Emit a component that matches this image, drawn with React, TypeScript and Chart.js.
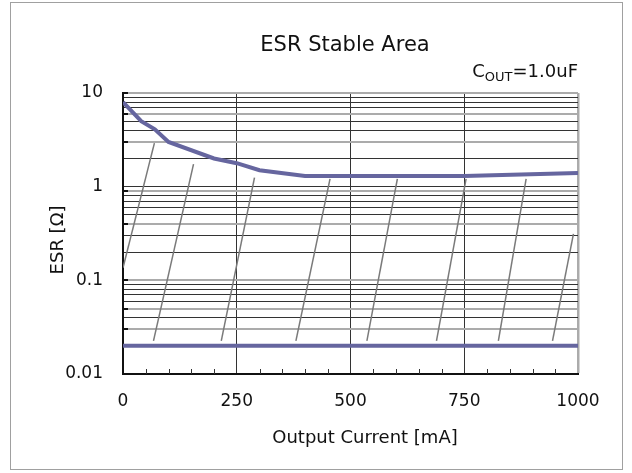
import React, { useEffect, useRef } from "react";
import { Chart, registerables } from "chart.js";

Chart.register(...registerables);

// ---- data ----
const UPPER_X = [0, 40, 70, 100, 200, 250, 300, 400, 750, 1000];
const UPPER_Y = [8.0, 5.0, 4.1, 3.0, 2.0, 1.78, 1.5, 1.3, 1.3, 1.4];
const LOWER_X = [0, 1000];
const LOWER_Y = [0.02, 0.02];
const HATCH_X0 = [0, 67, 216, 380, 536, 689, 825, 944];
const HATCH_Y0 = [0.136, 0.0226, 0.0226, 0.0226, 0.0226, 0.0226, 0.0226, 0.0226];
const HATCH_X1 = [69, 155, 289, 455, 603, 754, 886, 990];
const HATCH_Y1 = [2.92, 1.74, 1.25, 1.21, 1.21, 1.21, 1.21, 0.314];
const X_TICKS = [0, 250, 500, 750, 1000];
const X_MINOR = [50, 100, 150, 200, 300, 350, 400, 450, 550, 600, 650, 700, 800, 850, 900, 950];
const Y_LABELS = [0.01, 0.1, 1, 10];
const Y_GRID = [
  0.01, 0.02, 0.03, 0.04, 0.05, 0.06, 0.07, 0.08, 0.09,
  0.1, 0.2, 0.3, 0.4, 0.5, 0.6, 0.7, 0.8, 0.9,
  1, 2, 3, 4, 5, 6, 7, 8, 9, 10,
];
const Y_GRAY = [0.03, 0.05, 0.1, 0.4, 0.9, 3, 6, 10];

const TITLE = "ESR Stable Area";
const X_TITLE = "Output Current [mA]";
const Y_TITLE = "ESR [Ω]";

const FONT = '"DejaVu Sans", Verdana, sans-serif';
const BLUE = "#66669f";
const HATCH = "#7a7a7a";
const DARK = "#333333";
const GRAY = "#ababab";

const decorPlugin = {
  id: "decor",
  beforeDraw(chart: any) {
    const { ctx } = chart;
    ctx.save();
    ctx.fillStyle = "#ffffff";
    ctx.fillRect(0, 0, chart.width, chart.height);
    ctx.strokeStyle = "#a0a0a0";
    ctx.lineWidth = 1;
    ctx.strokeRect(10.5, 2.5, 612, 467);
    ctx.restore();
  },
  afterDraw(chart: any) {
    const { ctx, chartArea } = chart;
    const xs = chart.scales.x;
    const ys = chart.scales.y;
    ctx.save();
    // minor x ticks (inward)
    ctx.strokeStyle = DARK;
    ctx.lineWidth = 1;
    X_MINOR.forEach((v) => {
      const px = Math.round(xs.getPixelForValue(v)) + 0.5;
      ctx.beginPath();
      ctx.moveTo(px, chartArea.bottom);
      ctx.lineTo(px, chartArea.bottom - 5);
      ctx.stroke();
    });
    // small inward y ticks
    ctx.strokeStyle = "#111";
    ctx.lineWidth = 2;
    Y_GRAY.forEach((v) => {
      const py = Math.round(ys.getPixelForValue(v));
      ctx.beginPath();
      ctx.moveTo(chartArea.left, py);
      ctx.lineTo(chartArea.left + 5, py);
      ctx.stroke();
    });
    ctx.fillStyle = "#111";
    // title
    ctx.font = `21px ${FONT}`;
    ctx.textAlign = "center";
    ctx.textBaseline = "alphabetic";
    ctx.fillText(TITLE, 345, 51);
    // x title
    ctx.font = `18px ${FONT}`;
    ctx.fillText(X_TITLE, 365, 443);
    // y title
    ctx.save();
    ctx.translate(58, 240);
    ctx.rotate(-Math.PI / 2);
    ctx.textBaseline = "middle";
    ctx.fillText(Y_TITLE, 0, 0);
    ctx.restore();
    // C_OUT note
    const parts = [
      { t: "C", f: `18px ${FONT}`, dy: 0 },
      { t: "OUT", f: `13px ${FONT}`, dy: 4 },
      { t: "=1.0uF", f: `18px ${FONT}`, dy: 0 },
    ];
    let total = 0;
    parts.forEach((p) => {
      ctx.font = p.f;
      total += ctx.measureText(p.t).width;
    });
    let x = 578 - total;
    ctx.textAlign = "left";
    parts.forEach((p) => {
      ctx.font = p.f;
      ctx.fillText(p.t, x, 77 + p.dy);
      x += ctx.measureText(p.t).width;
    });
    ctx.restore();
  },
};

export default function App() {
  const ref = useRef<HTMLCanvasElement | null>(null);

  useEffect(() => {
    if (!ref.current) return;
    const hatchSets = HATCH_X0.map((x0, i) => ({
      data: [
        { x: x0, y: HATCH_Y0[i] },
        { x: HATCH_X1[i], y: HATCH_Y1[i] },
      ],
      borderColor: HATCH,
      borderWidth: 1.5,
      pointRadius: 0,
      fill: false,
    }));
    const chart = new Chart(ref.current, {
      type: "line",
      data: {
        datasets: [
          {
            data: UPPER_X.map((x, i) => ({ x, y: UPPER_Y[i] })),
            borderColor: BLUE,
            borderWidth: 4,
            pointRadius: 0,
            fill: false,
          },
          {
            data: LOWER_X.map((x, i) => ({ x, y: LOWER_Y[i] })),
            borderColor: BLUE,
            borderWidth: 4,
            pointRadius: 0,
            fill: false,
          },
          ...hatchSets,
        ],
      },
      options: {
        animation: false,
        responsive: false,
        events: [],
        layout: { padding: { top: 93, right: 54, left: 0, bottom: 0 } },
        plugins: {
          legend: { display: false },
          tooltip: { enabled: false },
          title: { display: false },
        },
        scales: {
          x: {
            type: "linear",
            min: 0,
            max: 1000,
            afterBuildTicks: (s: any) => {
              s.ticks = X_TICKS.map((v) => ({ value: v }));
            },
            afterFit: (s: any) => {
              s.height = 99;
            },
            ticks: {
              autoSkip: false,
              maxRotation: 0,
              padding: 17,
              color: "#111",
              font: { family: FONT, size: 17 },
              callback: (v: any) => String(v),
            },
            grid: {
              drawTicks: false,
              color: (c: any) =>
                c.tick && c.tick.value === 1000 ? GRAY : c.tick && c.tick.value === 0 ? "rgba(0,0,0,0)" : DARK,
              lineWidth: (c: any) => (c.tick && c.tick.value === 1000 ? 2.5 : 1),
            },
            border: { display: true, color: "#111", width: 2 },
          },
          y: {
            type: "logarithmic",
            min: 0.01,
            max: 10,
            afterBuildTicks: (s: any) => {
              s.ticks = Y_GRID.map((v) => ({ value: v }));
            },
            afterFit: (s: any) => {
              s.width = 123;
            },
            ticks: {
              autoSkip: false,
              padding: 20,
              color: "#111",
              font: { family: FONT, size: 17 },
              callback: (v: any) => (Y_LABELS.includes(v) ? String(v) : ""),
            },
            grid: {
              drawTicks: false,
              color: (c: any) => {
                const v = c.tick ? c.tick.value : null;
                if (v === 0.01) return "rgba(0,0,0,0)";
                return Y_GRAY.includes(v) ? GRAY : DARK;
              },
              lineWidth: (c: any) => {
                const v = c.tick ? c.tick.value : null;
                return Y_GRAY.includes(v) ? 2 : 1;
              },
            },
            border: { display: true, color: "#111", width: 2 },
          },
        },
      },
      plugins: [decorPlugin],
    } as any);
    return () => chart.destroy();
  }, []);

  return (
    <div style={{ position: "fixed", left: 0, top: 0, width: 632, height: 473, background: "#fff" }}>
      <canvas ref={ref} width={632} height={473} style={{ display: "block" }} />
    </div>
  );
}
